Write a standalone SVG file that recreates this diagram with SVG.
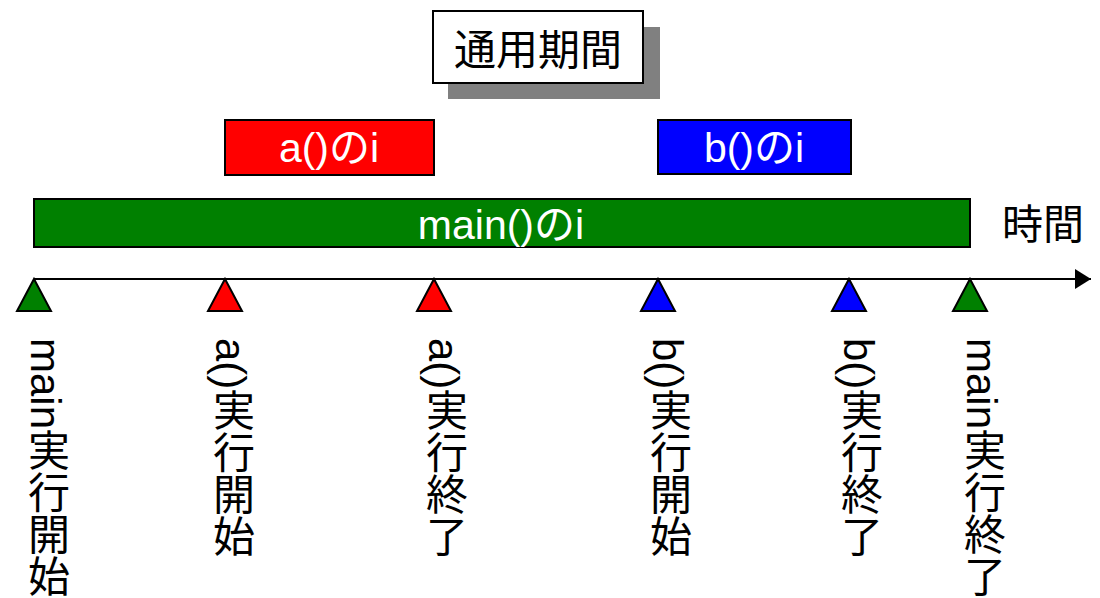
<svg xmlns="http://www.w3.org/2000/svg" width="1100" height="598" viewBox="0 0 1100 598">
<style>
text{font-family:"Liberation Sans","Noto Sans CJK JP",sans-serif;}
.bar{stroke:#000;stroke-width:2;}
.lbl{font-size:41px;fill:#fff;text-anchor:middle;}
.vt{font-size:42px;fill:#000;writing-mode:vertical-rl;}
.tri{stroke:#000;stroke-width:2;stroke-linejoin:miter;}
</style>
<defs>
<marker id="arr" viewBox="0 0 16 20" refX="16" refY="10" markerWidth="16" markerHeight="20" markerUnits="userSpaceOnUse" orient="auto">
<path d="M0,0 L16,10 L0,20 Z" fill="#000"/>
</marker>
</defs>
<rect width="1100" height="598" fill="#fff"/>
<g id="title">
<rect x="448" y="27" width="212" height="72" fill="#808080"/>
<rect x="433" y="11" width="210" height="72" fill="#fff" stroke="#000" stroke-width="2"/>
<text x="538" y="65" font-size="42" text-anchor="middle">通用期間</text>
</g>
<g id="a-i">
<rect class="bar" x="225" y="120" width="209" height="55" fill="#ff0000"/>
<text class="lbl" x="329" y="162">a()のi</text>
</g>
<g id="b-i">
<rect class="bar" x="658" y="120" width="193" height="54" fill="#0000ff"/>
<text class="lbl" x="754" y="162">b()のi</text>
</g>
<g id="main-i">
<rect class="bar" x="34" y="199" width="936" height="48" fill="#008000"/>
<text class="lbl" x="501" y="239">main()のi</text>
</g>
<g id="time-label">
<text x="1002" y="239" font-size="41">時間</text>
</g>
<g id="connectors">
<line x1="34" y1="279" x2="1091" y2="279" stroke="#000" stroke-width="2" marker-end="url(#arr)"/>
</g>
<g id="markers">
<path class="tri" d="M34,279 L51,311 L17,311 Z" fill="#008000"/>
<path class="tri" d="M225,279 L242,311 L208,311 Z" fill="#ff0000"/>
<path class="tri" d="M434,279 L451,311 L417,311 Z" fill="#ff0000"/>
<path class="tri" d="M658,279 L675,311 L641,311 Z" fill="#0000ff"/>
<path class="tri" d="M849,279 L866,311 L832,311 Z" fill="#0000ff"/>
<path class="tri" d="M970,279 L987,311 L953,311 Z" fill="#008000"/>
</g>
<g id="labels">
<text class="vt" x="45" y="338">main実行開始</text>
<text class="vt" x="230" y="338">a()実行開始</text>
<text class="vt" x="443" y="338">a()実行終了</text>
<text class="vt" x="667" y="338">b()実行開始</text>
<text class="vt" x="858" y="338">b()実行終了</text>
<text class="vt" x="981" y="338">main実行終了</text>
</g>
</svg>
